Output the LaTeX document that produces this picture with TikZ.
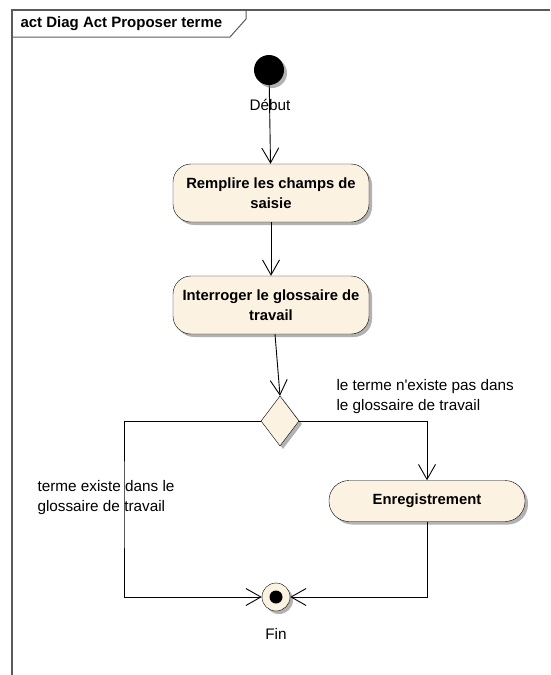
\documentclass[tikz,border=0pt]{standalone}
\usepackage{fontspec}
\setmainfont{Liberation Sans}
\usetikzlibrary{arrows.meta,shapes.geometric,shadows}
\definecolor{beige}{RGB}{252,242,226}
\definecolor{cadre}{RGB}{90,90,90}
\begin{document}
\begin{tikzpicture}
		[x=1pt,y=-1pt,
		font=\fontsize{15.3}{20}\selectfont,
		ombre/.style={drop shadow={shadow xshift=3pt,shadow yshift=-3pt,fill=black!30,opacity=1}},
		action/.style={draw,fill=beige,rounded corners=18pt,ombre,
			minimum width=196pt,minimum height=58pt,align=center,
			font=\fontsize{14.8}{20}\selectfont\bfseries},
		decision/.style={diamond,draw,fill=beige,ombre,inner sep=0pt,
			minimum width=38pt,minimum height=50pt},
		initial/.style={circle,fill=black,minimum size=30pt,inner sep=0pt,ombre},
		final/.style={circle,draw,fill=beige,minimum size=28pt,inner sep=0pt,ombre},
		flux/.style={-{Straight Barb[length=15pt,width=17pt]},line width=0.9pt},
		garde/.style={align=left,anchor=west}]
		\useasboundingbox (0,0) rectangle (550,675);
		% cadre du diagramme
		\draw[cadre,line width=1.6pt] (12,675) -- (12,10) -- (550,10);
		\draw[cadre,line width=1pt] (12,37) -- (230,37) -- (246,19) -- (246,10);
		\node[anchor=west,font=\fontsize{15}{20}\selectfont\bfseries] (titre) at (17,24) {act Diag Act Proposer terme};
		% noeuds
		\node[initial] (debut) at (269,70) {};
		\node (ldebut) at (270,105) {Début};
		\node[action] (remplir) at (271,193) {Remplire les champs de\\saisie};
		\node[action] (interroger) at (271,305) {Interroger le glossaire de\\travail};
		\node[decision] (choix) at (280,421) {};
		\node[action,rounded corners=20pt,minimum height=41pt] (enreg) at (427,501) {Enregistrement};
		\node[final] (fin) at (276,597) {};
		\fill (fin.center) circle (6.5pt);
		\node (lfin) at (276,634) {Fin};
		% gardes
		\node[garde] (gnon) at (333,397) {le terme n\textquotesingle existe pas dans\\le glossaire de travail};
		\node[garde] (goui) at (34,498) {terme existe dans le\\glossaire de travail};
		% transitions
		\draw[flux] (debut) -- (remplir);
		\draw[flux] (remplir) -- (interroger);
		\draw[flux] ([xshift=4pt]interroger.south) -- (choix.north);
		\draw[flux] (choix.east) -| (enreg.north);
		\draw[flux] (choix.west) -| (124,500) |- (fin.west);
		\draw[flux] (enreg.south) |- (fin.east);
	\end{tikzpicture}
\end{document}
